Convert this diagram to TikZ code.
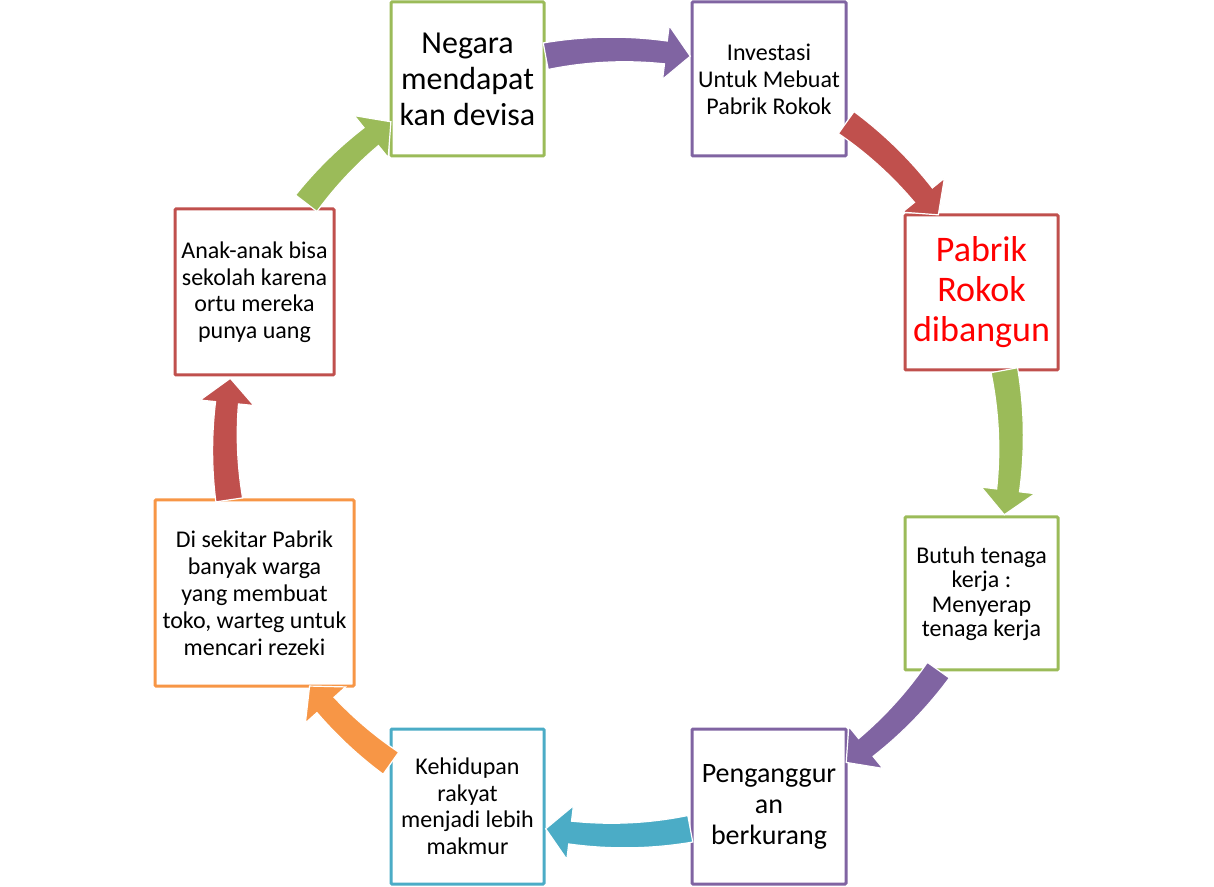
\documentclass[tikz,border=0pt]{standalone}
\usepackage{fontspec}
\setmainfont{Carlito}
\definecolor{cgreen}{HTML}{9BBB59}
\definecolor{cpurple}{HTML}{8064A2}
\definecolor{cred}{HTML}{C0504D}
\definecolor{cteal}{HTML}{4BACC6}
\definecolor{corange}{HTML}{F79646}
\definecolor{ctext}{HTML}{FF0000}
\newcommand\cyc[3]{%
 \pgfmathsetmacro\ae{#3+3.6}%
 \fill[#1,draw=white,line width=1.2pt,line join=miter]
  plot[domain=#2:\ae,samples=40,variable=\t]
   ({618+(404.5+2*(\t-\ae)/(#2-\ae))*cos(\t)},{443.5+(404.5+2*(\t-\ae)/(#2-\ae))*sin(\t)})
  -- ({618+420*cos(\ae)},{443.5+420*sin(\ae)})
  -- ({618+393*cos(#3)},{443.5+393*sin(#3)})
  -- ({618+366*cos(\ae)},{443.5+366*sin(\ae)})
  -- plot[domain=\ae:#2,samples=40,variable=\t]
   ({618+(381.5-2*(\t-\ae)/(#2-\ae))*cos(\t)},{443.5+(381.5-2*(\t-\ae)/(#2-\ae))*sin(\t)})
  -- cycle;}
\tikzset{
 cbox/.style={draw=#1,fill=white,line width=3pt,inner sep=0pt,align=center,rounded corners=1pt},
 small/.style={font=\fontsize{24}{26}\selectfont},
}
\begin{document}
\begin{tikzpicture}[x=1pt,y=1pt]
\useasboundingbox (0,0) rectangle (1214,886);
\node[cbox=cgreen,minimum width=153pt,minimum height=154pt,font=\fontsize{32}{36}\selectfont] (n1) at (467.5,807) {Negara\\mendapat\\kan devisa};
\node[cbox=cpurple,minimum width=154pt,minimum height=154pt,small,font=\fontsize{24}{27}\selectfont] (n2) at (769,807) {Investasi\\Untuk Mebuat\\Pabrik Rokok};
\node[cbox=cred,minimum width=153pt,minimum height=155pt,font=\fontsize{36}{40}\selectfont,text=ctext] (n3) at (981.5,593.5) {Pabrik\\Rokok\\dibangun};
\node[cbox=cgreen,minimum width=153pt,minimum height=153pt,font=\fontsize{24}{24.5}\selectfont] (n4) at (981.5,292.5) {Butuh tenaga\\kerja :\\Menyerap\\tenaga kerja};
\node[cbox=cpurple,minimum width=154pt,minimum height=155pt,font=\fontsize{28}{31}\selectfont] (n5) at (769,79.5) {Penganggur\\an\\berkurang};
\node[cbox=cteal,minimum width=153pt,minimum height=155pt,font=\fontsize{24}{26.5}\selectfont] (n6) at (467.5,79.5) {Kehidupan\\rakyat\\menjadi lebih\\makmur};
\node[cbox=corange,minimum width=199pt,minimum height=186pt,font=\fontsize{24}{27}\selectfont] (n7) at (254.5,293) {Di sekitar Pabrik\\banyak warga\\yang membuat\\toko, warteg untuk\\mencari rezeki};
\node[cbox=cred,minimum width=159pt,minimum height=166pt,font=\fontsize{24}{26.5}\selectfont] (n8) at (254.5,594) {Anak-anak bisa\\sekolah karena\\ortu mereka\\punya uang};
\cyc{cpurple}{100.6}{79.4}
\cyc{cred}{54.5}{35.4}
\cyc{cgreen}{10.6}{-10.6}
\cyc{cpurple}{-35.4}{-54.5}
\cyc{cteal}{-79.4}{-100.6}
\cyc{corange}{-125.3}{-141.7}
\cyc{cred}{188.4}{170.6}
\cyc{cgreen}{142.5}{125.3}
\end{tikzpicture}
\end{document}
